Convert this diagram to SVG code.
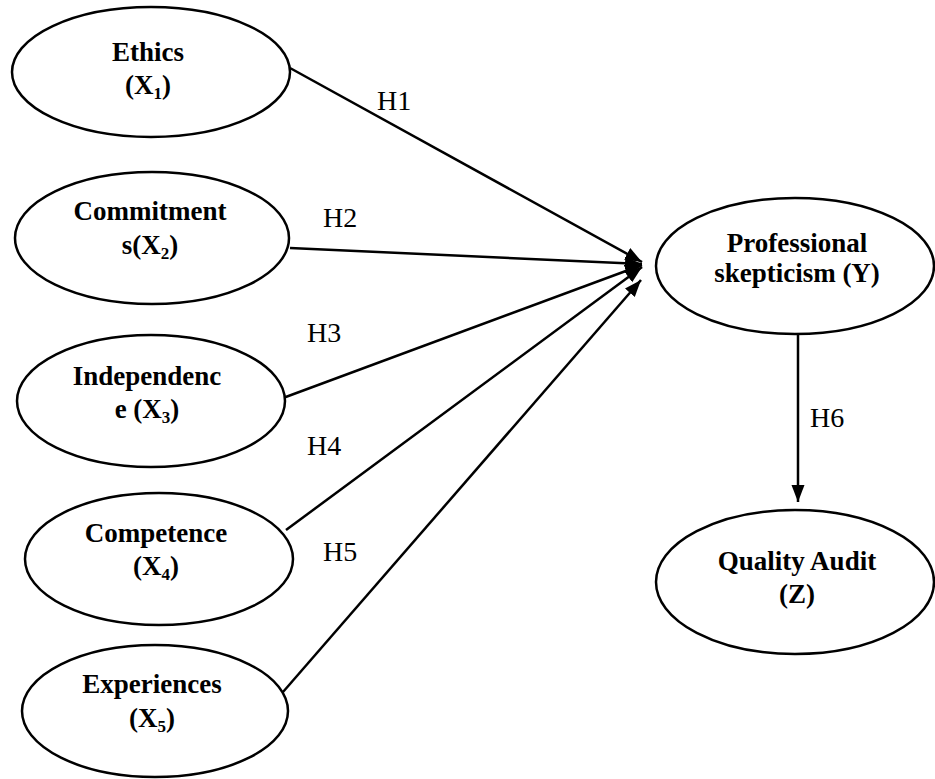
<svg xmlns="http://www.w3.org/2000/svg" width="935" height="779" viewBox="0 0 935 779">
<style>
.node ellipse{fill:#fff;stroke:#000;stroke-width:2.5}
.lbl{font-family:"Liberation Serif","Times New Roman",serif;font-weight:bold;font-size:27px;fill:#000;text-anchor:middle}
.sub{font-size:17px}
.h{font-family:"Liberation Serif","Times New Roman",serif;font-size:28px;fill:#000}
.conn line{stroke:#000;stroke-width:2.5;fill:none}
</style>
<defs>
<marker id="ah" markerUnits="userSpaceOnUse" markerWidth="18" markerHeight="14" refX="17" refY="6.5" orient="auto" viewBox="0 0 18 14">
<path d="M0,0 L17,6.5 L0,13 Z" fill="#000"/>
</marker>
</defs>
<rect width="935" height="779" fill="#fff"/>
<g id="connectors" class="conn">
<line x1="290" y1="68" x2="642" y2="262" marker-end="url(#ah)"/>
<line x1="290" y1="248" x2="642" y2="264" marker-end="url(#ah)"/>
<line x1="283" y1="398" x2="642" y2="265" marker-end="url(#ah)"/>
<line x1="286" y1="530" x2="642" y2="267" marker-end="url(#ah)"/>
<line x1="283" y1="692" x2="641" y2="280" marker-end="url(#ah)"/>
<line x1="798" y1="326" x2="798" y2="502" marker-end="url(#ah)"/>
<text class="h" x="377" y="110">H1</text>
<text class="h" x="323" y="227">H2</text>
<text class="h" x="307" y="342">H3</text>
<text class="h" x="307" y="455">H4</text>
<text class="h" x="323" y="561">H5</text>
<text class="h" x="810" y="427">H6</text>
</g>
<g id="ethics" class="node">
<ellipse cx="151" cy="72" rx="139" ry="65"/>
<text class="lbl" x="148" y="61">Ethics</text>
<text class="lbl" x="148" y="94">(X<tspan class="sub" dy="5">1</tspan><tspan dy="-5">)</tspan></text>
</g>
<g id="commitments" class="node">
<ellipse cx="152" cy="238" rx="137" ry="66"/>
<text class="lbl" x="150" y="220">Commitment</text>
<text class="lbl" x="150" y="254">s(X<tspan class="sub" dy="5">2</tspan><tspan dy="-5">)</tspan></text>
</g>
<g id="independence" class="node">
<ellipse cx="151" cy="401" rx="134" ry="66"/>
<text class="lbl" x="147" y="385">Independenc</text>
<text class="lbl" x="147" y="418">e (X<tspan class="sub" dy="5">3</tspan><tspan dy="-5">)</tspan></text>
</g>
<g id="competence" class="node">
<ellipse cx="159" cy="559" rx="134" ry="66"/>
<text class="lbl" x="156" y="542">Competence</text>
<text class="lbl" x="156" y="575">(X<tspan class="sub" dy="5">4</tspan><tspan dy="-5">)</tspan></text>
</g>
<g id="experiences" class="node">
<ellipse cx="155" cy="711" rx="133" ry="66"/>
<text class="lbl" x="152" y="693">Experiences</text>
<text class="lbl" x="152" y="727">(X<tspan class="sub" dy="5">5</tspan><tspan dy="-5">)</tspan></text>
</g>
<g id="skepticism" class="node">
<ellipse cx="795" cy="266" rx="139" ry="68"/>
<text class="lbl" x="797" y="252">Professional</text>
<text class="lbl" x="797" y="282">skepticism (Y)</text>
</g>
<g id="quality" class="node">
<ellipse cx="795" cy="582" rx="139" ry="72"/>
<text class="lbl" x="797" y="570">Quality Audit</text>
<text class="lbl" x="797" y="603">(Z)</text>
</g>
</svg>
